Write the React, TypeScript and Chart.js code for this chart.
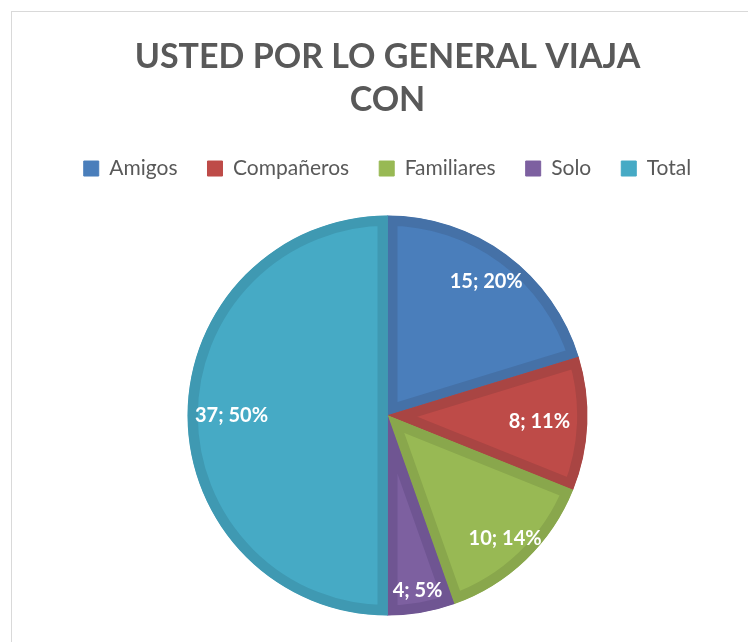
import React, { useEffect, useRef } from "react";
import { Chart, registerables } from "chart.js";

Chart.register(...registerables);

const categories = ["Amigos", "Compañeros", "Familiares", "Solo", "Total"];
const values = [15, 8, 10, 4, 37];
const titleLines = ["USTED POR LO GENERAL VIAJA", "CON"];

const fillColors = ["#4A7EBB", "#BE4B48", "#98B954", "#7D60A0", "#46AAC5"];
const borderColors = ["#4571A7", "#A94543", "#89A74C", "#6F5592", "#3F99B2"];
const labelRadius = [0.83, 0.76, 0.85, 0.89, 0.78];

const FONT = "Lato, 'Open Sans', sans-serif";

const labelPlugin = {
  id: "sliceLabels",
  afterDatasetsDraw(chart: any) {
    const ctx = chart.ctx;
    const meta = chart.getDatasetMeta(0);
    const data = chart.data.datasets[0].data as number[];
    const total = data.reduce((a, b) => a + b, 0);
    ctx.save();
    ctx.fillStyle = "#FFFFFF";
    ctx.font = `bold 20px ${FONT}`;
    ctx.textAlign = "center";
    ctx.textBaseline = "middle";
    meta.data.forEach((arc: any, i: number) => {
      const mid = (arc.startAngle + arc.endAngle) / 2;
      const r = arc.outerRadius * labelRadius[i];
      const x = arc.x + Math.cos(mid) * r;
      const y = arc.y + Math.sin(mid) * r;
      const pct = Math.round((data[i] / total) * 100);
      ctx.fillText(`${data[i]}; ${pct}%`, x, y);
    });
    ctx.restore();
  },
};

export default function App() {
  const ref = useRef<HTMLCanvasElement | null>(null);
  useEffect(() => {
    if (!ref.current) return;
    const chart = new Chart(ref.current, {
      type: "pie",
      data: {
        labels: categories,
        datasets: [
          {
            data: values,
            backgroundColor: fillColors,
            borderColor: borderColors,
            borderWidth: 10,
            borderAlign: "inner",
          } as any,
        ],
      },
      options: {
        animation: false,
        responsive: false,
        maintainAspectRatio: false,
        radius: 200,
        layout: { padding: { left: 15, right: 0, top: 0, bottom: 0 } },
        plugins: {
          title: {
            display: true,
            text: titleLines,
            color: "#595959",
            font: { family: FONT, size: 34, weight: "bold", lineHeight: 1.265 },
            padding: { top: 24, bottom: 6 },
          },
          legend: {
            display: true,
            position: "top",
            labels: {
              color: "#595959",
              font: { family: FONT, size: 21 },
              boxWidth: 15,
              boxHeight: 15,
              padding: 30,
              generateLabels: () =>
                categories.map((c, i) => ({
                  text: c,
                  fillStyle: fillColors[i],
                  strokeStyle: fillColors[i],
                  lineWidth: 1,
                  fontColor: "#595959",
                  hidden: false,
                  index: i,
                })),
            },
          },
          tooltip: { enabled: false },
        },
      } as any,
      plugins: [labelPlugin],
    });
    return () => chart.destroy();
  }, []);

  return (
    <div
      style={{
        position: "fixed",
        left: 11,
        top: 11,
        width: 737,
        height: 631,
        borderLeft: "1px solid #D9D9D9",
        borderTop: "1px solid #D9D9D9",
        background: "#fff",
        overflow: "hidden",
      }}
    >
      <canvas ref={ref} width={736} height={630} style={{ display: "block" }} />
    </div>
  );
}
